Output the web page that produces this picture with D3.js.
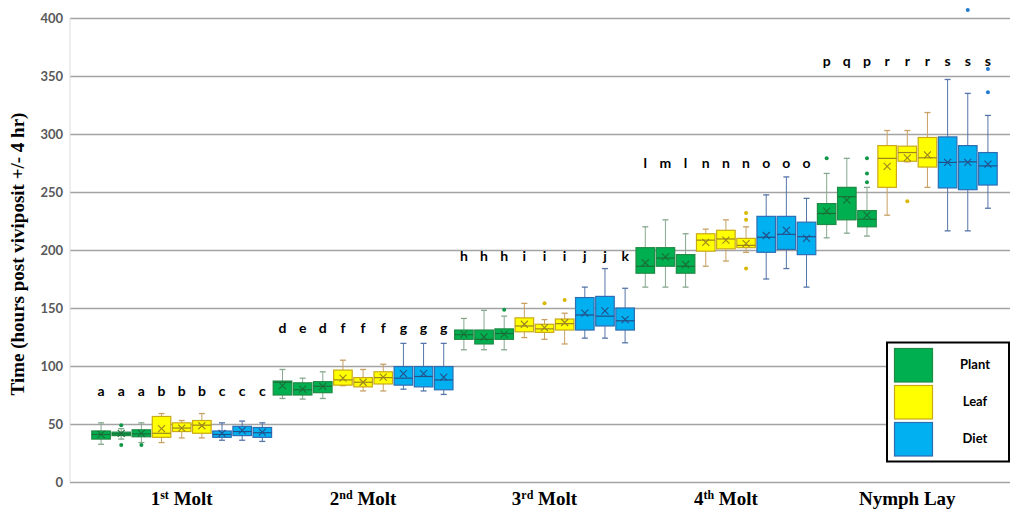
<!DOCTYPE html>
<html>
<head>
<meta charset="utf-8">
<script src="https://d3js.org/d3.v7.min.js"></script>
<style>
  body { margin: 0; background: #fff; }
  svg { display: block; }
</style>
</head>
<body>
<svg id="chart" width="1014" height="511"></svg>
<script>
// ########
// # DATA #
// ########
var groups = ["1st Molt", "2nd Molt", "3rd Molt", "4th Molt", "Nymph Lay"];
var treatments = ["Plant", "Plant", "Plant", "Leaf", "Leaf", "Leaf", "Diet", "Diet", "Diet"];
var legendNames = ["Plant", "Leaf", "Diet"];
var yTicks = [0, 50, 100, 150, 200, 250, 300, 350, 400];

// one entry per box, 9 boxes per group, in group order
var whiskerLow = [
  32.5, 37, 34, 34, 38, 38, 36, 36, 35,
  72, 71.5, 72, 83, 78.5, 78.5, 80, 78.5, 75.5,
  114, 114, 114, 124.5, 123, 119, 124, 124, 120,
  168, 168, 168, 186, 190.5, 198, 175, 184, 168,
  210.5, 214.5, 212, 230, 276, 254, 216.5, 216.5, 236
];
var q1 = [
  37, 40, 39, 38.5, 43.5, 42, 38.5, 40, 38.5,
  75, 75, 77, 83.5, 82, 84.5, 83.5, 82, 79.5,
  123, 119, 123, 129.5, 129, 131, 131, 134.5, 131,
  180, 186, 180, 199, 201, 202, 198, 200.5, 196,
  222, 226, 220, 254, 276.5, 271.5, 253.5, 252, 256
];
var median = [
  41, 41.5, 41.5, 42, 46.5, 49, 41, 43.5, 42.5,
  86, 79.5, 82.5, 88, 86, 90, 89.5, 91, 88,
  127, 123, 128, 134.5, 132, 136.5, 144, 143, 139,
  186, 193, 186, 208.5, 209.5, 204, 211, 213.5, 211.5,
  231.5, 246, 226.5, 279, 284, 279.5, 275.5, 276, 272.5
];
var q3 = [
  44, 43, 45, 56.5, 51, 53, 44, 48, 47,
  87, 85.5, 86.5, 96.5, 90, 95, 99.5, 99.5, 99.5,
  131, 131, 132, 141.5, 136, 140.5, 159, 160, 150,
  202, 202, 196, 214, 217, 210, 229, 229, 224,
  240, 254, 234, 290, 289.5, 297, 297.5, 290, 284
];
var whiskerHigh = [
  51, 46, 51, 59, 53, 59, 51, 52.5, 51,
  97, 89.5, 95, 105, 97, 101.5, 119.5, 119.5, 119.5,
  141, 148, 143, 154, 140, 145.5, 168, 184, 167,
  220, 226, 214, 218, 226, 220, 247.5, 263, 244.5,
  266, 279, 254, 303, 303, 318.5, 347, 335, 316
];
var means = [
  41, 42, 42, 46, 46.5, 48.5, 42, 44.5, 43,
  83, 80, 82.5, 89.5, 86, 90.5, 93.5, 93.5, 90.5,
  127.5, 125, 127.5, 136, 133, 137.5, 145.5, 147.5, 140,
  189, 194, 187.5, 206.5, 208.5, 205.5, 212.5, 217, 210,
  233.5, 243, 230, 272, 279.5, 282, 275.5, 275.5, 274
];
var outliers = [
  [], [49, 32], [32], [], [], [], [], [], [],
  [], [], [], [], [], [], [], [], [],
  [], [], [148.5], [], [154], [157], [], [], [],
  [], [], [], [], [], [232, 226, 184], [], [], [],
  [279], [], [279, 266, 258.5], [], [242], [], [], [407], [356, 336]
];
var letters = [
  "a", "a", "a", "b", "b", "b", "c", "c", "c",
  "d", "e", "d", "f", "f", "f", "g", "g", "g",
  "h", "h", "h", "i", "i", "i", "j", "j", "k",
  "l", "m", "l", "n", "n", "n", "o", "o", "o",
  "p", "q", "p", "r", "r", "r", "s", "s", "s"
];
// height (in hours) of the letter row for each group
var letterLevel = [74, 128.5, 190.5, 270.5, 358.5];

// ##########
// # STYLES #
// ##########
var fills = { Plant: "#00b050", Leaf: "#ffff00", Diet: "#00b0f0" };
var strokes = { Plant: "#1f8a44", Leaf: "#c9a81a", Diet: "#2f6db3" };
var whiskerColor = { Plant: "#86a88e", Leaf: "#c8a064", Diet: "#5575a8" };
var markColor = { Plant: "#1b6e38", Leaf: "#9c8420", Diet: "#24508a" };
var dotColor = { Plant: "#109848", Leaf: "#d8b800", Diet: "#1f7ad0" };

// ########
// # MAIN #
// ########
var svg = d3.select("#chart");
var plotLeft = 70, plotRight = 1010, plotTop = 18, plotBottom = 482;

var y = d3.scaleLinear().domain([0, 400]).range([plotBottom, plotTop]);
var xGroup = d3.scaleBand().domain(groups).range([91, 998]).padding(0);
var xBox = d3.scaleBand().domain(d3.range(9)).range([0, xGroup.bandwidth()]).padding(0);
var boxW = xBox.bandwidth() * 0.92;
var capW = 3;

// boxes table built from the arrays
var boxes = [];
for (var i = 0; i < whiskerLow.length; i++) {
  var g = Math.floor(i / 9), k = i % 9;
  boxes.push({
    group: groups[g], slot: k, kind: treatments[k],
    lo: whiskerLow[i], q1: q1[i], med: median[i], q3: q3[i], hi: whiskerHigh[i],
    mean: means[i], out: outliers[i], letter: letters[i], level: letterLevel[g]
  });
}
function cx(d) { return xGroup(d.group) + xBox(d.slot) + xBox.bandwidth() / 2; }

// gridlines + tick labels
var yAxis = svg.append("g")
  .attr("transform", "translate(" + plotLeft + ",0)")
  .call(d3.axisLeft(y).tickValues(yTicks).tickSize(-(plotRight - plotLeft)).tickPadding(7));
yAxis.select(".domain").remove();
yAxis.selectAll(".tick line").attr("stroke", "#a3a3a3").attr("stroke-width", 1.6);
yAxis.selectAll(".tick text")
  .attr("fill", "#595959")
  .style("font-family", "Lato, 'Open Sans', sans-serif")
  .style("font-weight", "700")
  .style("font-size", "13px");

svg.append("line")
  .attr("x1", plotLeft).attr("x2", plotLeft)
  .attr("y1", plotTop).attr("y2", plotBottom)
  .attr("stroke", "#dcdcdc").attr("stroke-width", 1);

// y title
svg.append("text")
  .attr("transform", "translate(24," + ((plotTop + plotBottom) / 2 + 4) + ") rotate(-90)")
  .attr("text-anchor", "middle")
  .style("font-family", "'Liberation Serif', 'Times New Roman', serif")
  .style("font-weight", "700")
  .style("font-size", "19px")
  .text("Time (hours post viviposit +/- 4 hr)");

// x labels, with ordinal superscript
var xl = svg.append("g").selectAll("text")
  .data(groups)
  .enter().append("text")
  .attr("x", function (d) { return xGroup(d) + xGroup.bandwidth() / 2; })
  .attr("y", 505)
  .attr("text-anchor", "middle")
  .style("font-family", "'Liberation Serif', 'Times New Roman', serif")
  .style("font-weight", "700")
  .style("font-size", "19px");
xl.each(function (d) {
  var m = d.match(/^(\d)(st|nd|rd|th) (.*)$/);
  var t = d3.select(this);
  if (!m) { t.text(d); return; }
  t.append("tspan").text(m[1]);
  t.append("tspan").attr("dy", -6).style("font-size", "12px").text(m[2]);
  t.append("tspan").attr("dy", 6).text(" " + m[3]);
});

// boxes
var bx = svg.append("g").selectAll("g")
  .data(boxes)
  .enter().append("g");

// whiskers
bx.append("line")
  .attr("x1", cx).attr("x2", cx)
  .attr("y1", function (d) { return y(d.hi); })
  .attr("y2", function (d) { return y(d.q3); })
  .attr("stroke", function (d) { return whiskerColor[d.kind]; });
bx.append("line")
  .attr("x1", cx).attr("x2", cx)
  .attr("y1", function (d) { return y(d.q1); })
  .attr("y2", function (d) { return y(d.lo); })
  .attr("stroke", function (d) { return whiskerColor[d.kind]; });
bx.append("line")
  .attr("x1", function (d) { return cx(d) - capW; })
  .attr("x2", function (d) { return cx(d) + capW; })
  .attr("y1", function (d) { return y(d.hi); })
  .attr("y2", function (d) { return y(d.hi); })
  .attr("stroke", function (d) { return whiskerColor[d.kind]; }).attr("stroke-width", 1.3);
bx.append("line")
  .attr("x1", function (d) { return cx(d) - capW; })
  .attr("x2", function (d) { return cx(d) + capW; })
  .attr("y1", function (d) { return y(d.lo); })
  .attr("y2", function (d) { return y(d.lo); })
  .attr("stroke", function (d) { return whiskerColor[d.kind]; }).attr("stroke-width", 1.3);

bx.append("rect")
  .attr("x", function (d) { return cx(d) - boxW / 2; })
  .attr("y", function (d) { return y(d.q3); })
  .attr("width", boxW)
  .attr("height", function (d) { return Math.max(1, y(d.q1) - y(d.q3)); })
  .attr("fill", function (d) { return fills[d.kind]; })
  .attr("stroke", function (d) { return strokes[d.kind]; })
  .attr("stroke-width", 1.2);

// median
bx.append("line")
  .attr("x1", function (d) { return cx(d) - boxW / 2; })
  .attr("x2", function (d) { return cx(d) + boxW / 2; })
  .attr("y1", function (d) { return y(d.med); })
  .attr("y2", function (d) { return y(d.med); })
  .attr("stroke", function (d) { return markColor[d.kind]; }).attr("stroke-width", 1.2);

// mean "x"
bx.append("path")
  .attr("d", function (d) {
    var x0 = cx(d), y0 = y(d.mean), s = 3.5;
    return "M" + (x0 - s) + "," + (y0 - s) + "L" + (x0 + s) + "," + (y0 + s) +
      "M" + (x0 - s) + "," + (y0 + s) + "L" + (x0 + s) + "," + (y0 - s);
  })
  .attr("stroke", function (d) { return markColor[d.kind]; })
  .attr("stroke-width", 1.1).attr("fill", "none");

// outliers
bx.selectAll("circle")
  .data(function (d) { return d.out.map(function (v) { return { v: v, d: d }; }); })
  .enter().append("circle")
  .attr("cx", function (o) { return cx(o.d); })
  .attr("cy", function (o) { return y(o.v); })
  .attr("r", 2)
  .attr("fill", function (o) { return dotColor[o.d.kind]; });

// significance letters
svg.append("g").selectAll("text")
  .data(boxes)
  .enter().append("text")
  .attr("x", cx)
  .attr("y", function (d) { return y(d.level); })
  .attr("text-anchor", "middle")
  .style("font-family", "Lato, 'Open Sans', sans-serif")
  .style("font-weight", "700")
  .style("font-size", "14px")
  .text(function (d) { return d.letter; });

// ##########
// # LEGEND #
// ##########
var lg = svg.append("g");
lg.append("rect")
  .attr("x", 887).attr("y", 342.5).attr("width", 122).attr("height", 119)
  .attr("fill", "#fff").attr("stroke", "#000").attr("stroke-width", 2);
var li = lg.selectAll("g.item")
  .data(legendNames)
  .enter().append("g").attr("class", "item")
  .attr("transform", function (d, i) { return "translate(0," + (i * 37) + ")"; });
li.append("rect")
  .attr("x", 894.5).attr("y", 348.5).attr("width", 38).attr("height", 33.5)
  .attr("fill", function (d) { return fills[d]; })
  .attr("stroke", function (d) { return strokes[d]; }).attr("stroke-width", 1.2);
li.append("text")
  .attr("x", 975).attr("y", 369)
  .attr("text-anchor", "middle")
  .style("font-family", "Lato, 'Open Sans', sans-serif")
  .style("font-weight", "700")
  .style("font-size", "13px")
  .text(function (d) { return d; });
</script>
</body>
</html>
